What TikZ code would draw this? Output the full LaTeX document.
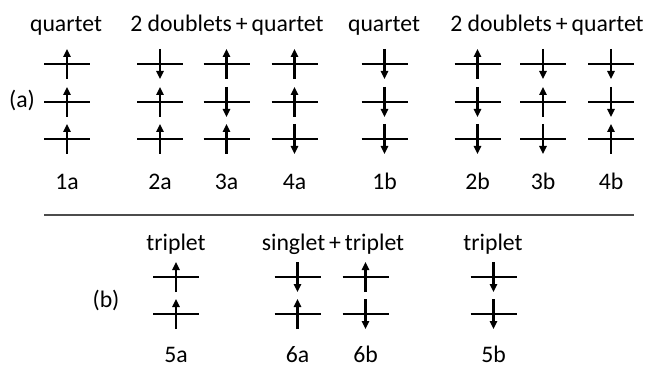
\documentclass[tikz,border=0pt]{standalone}
\usepackage{fontspec}
\setmainfont{Carlito}
\usetikzlibrary{arrows.meta}

\begin{document}
\begin{tikzpicture}[
    x=0.75pt, y=-0.75pt,
    font=\fontsize{17.8}{21}\selectfont,
    lbl/.style={anchor=base, inner sep=0pt},
    level/.style={line width=2pt},
    spin/.style={line width=1.6pt, -{Triangle[length=6pt, width=5.5pt]}},
    sep/.style={line width=0.9pt, black!70}
]
\useasboundingbox (0,0) rectangle (650,367);

% --- (a) three spins ---
\node[lbl] (Qa) at (66,32) {quartet};
\node[lbl] (DQa) at (227,32) {2 doublets\,+\,quartet};
\node[lbl] (Qb) at (384,32) {quartet};
\node[lbl] (DQb) at (547,32) {2 doublets\,+\,quartet};
\node[lbl] (A) at (22,108) {(a)};
\foreach \x/\sa/\sb/\sc/\name in {67/1/1/1/1a, 160/-1/1/1/2a, 226.5/1/-1/1/3a, 294.5/1/1/-1/4a,
    384.5/-1/-1/-1/1b, 477.5/1/-1/-1/2b, 543/-1/1/-1/3b, 611/-1/-1/1/4b}
{
  \foreach \y/\s in {64/\sa, 102/\sb, 139/\sc}
  {
    \draw[level] (\x-23,\y) -- (\x+23,\y);
    \draw[spin] (\x,{\y+15*(\s)}) -- (\x,{\y-15*(\s)});
  }
  \node[lbl] (L\name) at (\x,190) {\name};
}

% --- separator ---
\coordinate (SepL) at (44,215);
\coordinate (SepR) at (634,215);
\draw[sep] (SepL) -- (SepR);

% --- (b) two spins ---
\node[lbl] (Ta) at (176,250) {triplet};
\node[lbl] (ST) at (333,250) {singlet\,+\,triplet};
\node[lbl] (Tb) at (493,250) {triplet};
\node[lbl] (B) at (106,307) {(b)};
\foreach \x/\sa/\sb/\name in {176/1/1/5a, 297.5/-1/1/6a, 365.5/1/-1/6b, 493.5/-1/-1/5b}
{
  \foreach \y/\s in {277/\sa, 314/\sb}
  {
    \draw[level] (\x-23,\y) -- (\x+23,\y);
    \draw[spin] (\x,{\y+15*(\s)}) -- (\x,{\y-15*(\s)});
  }
  \node[lbl] (L\name) at (\x,362) {\name};
}
\end{tikzpicture}
\end{document}
